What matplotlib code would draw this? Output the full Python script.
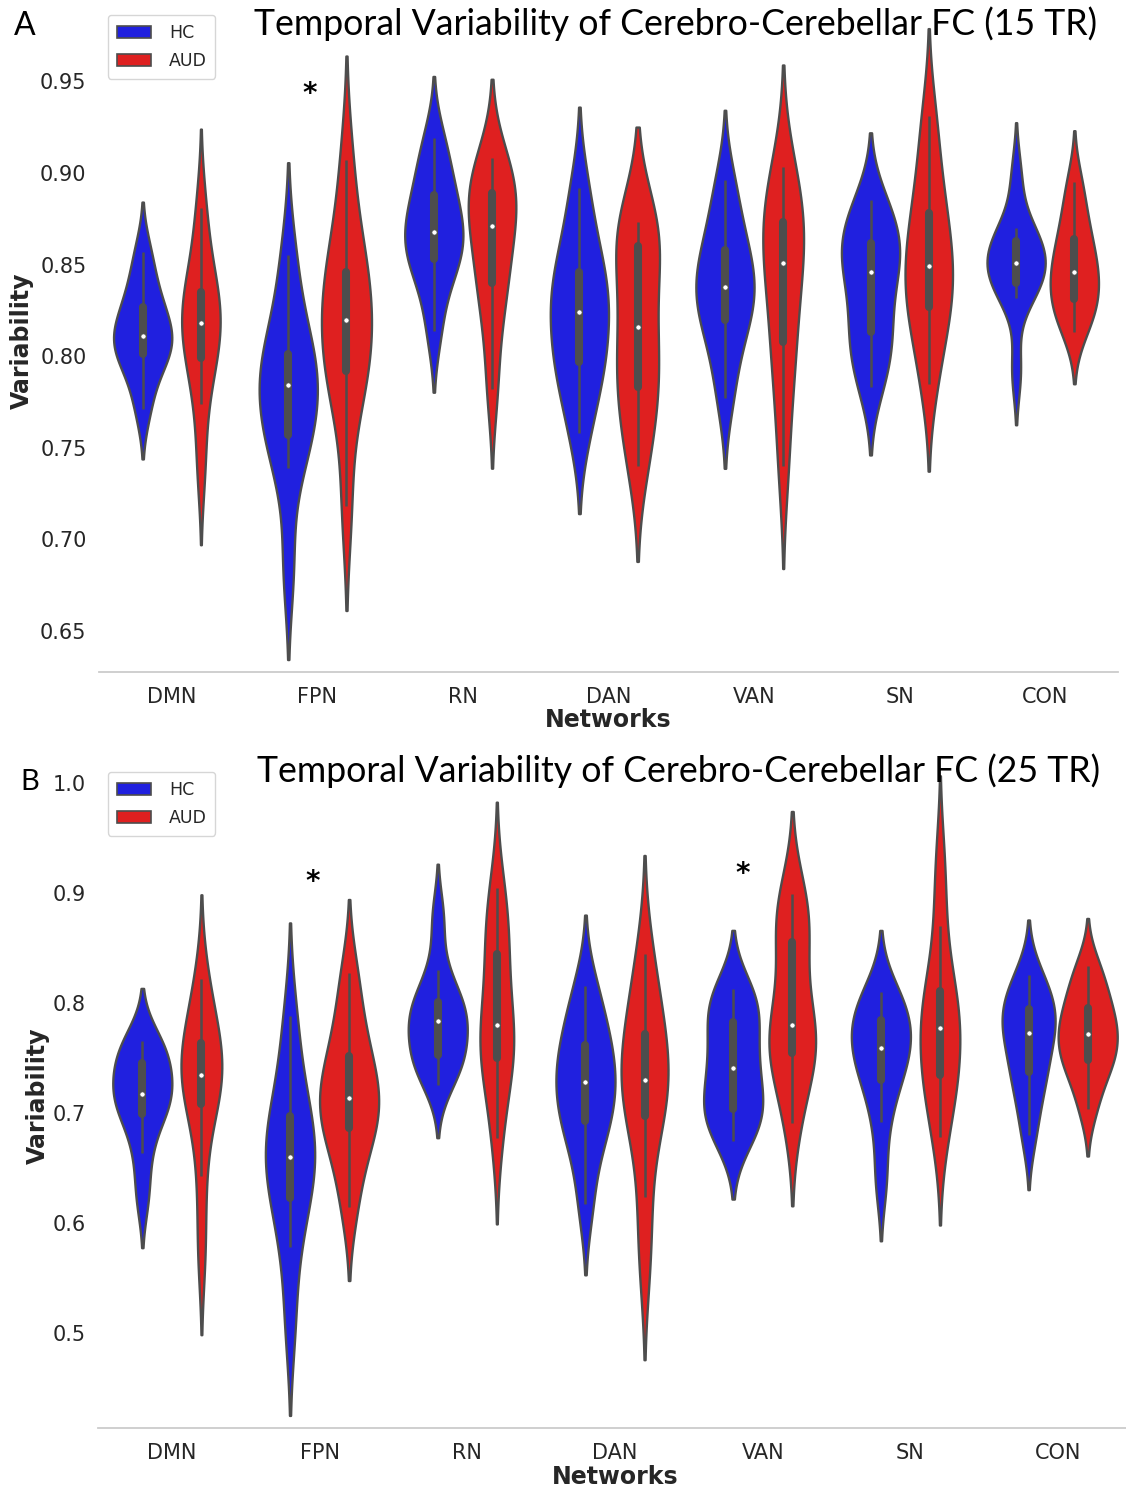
import numpy as np
import matplotlib
matplotlib.use("Agg")
import matplotlib.pyplot as plt
from matplotlib.patches import Patch

# ---------------- data ----------------
networks = ["DMN", "FPN", "RN", "DAN", "VAN", "SN", "CON"]
groups = ["HC", "AUD"]

# 15 TR window
hc_15tr = [
    [0.771, 0.788, 0.799, 0.803, 0.807, 0.811, 0.816, 0.824, 0.830, 0.842, 0.857],  # DMN
    [0.685, 0.739, 0.752, 0.762, 0.772, 0.784, 0.790, 0.797, 0.805, 0.826, 0.855],  # FPN
    [0.814, 0.838, 0.850, 0.856, 0.862, 0.868, 0.874, 0.884, 0.892, 0.905, 0.919],  # RN
    [0.758, 0.780, 0.792, 0.802, 0.812, 0.824, 0.832, 0.842, 0.850, 0.868, 0.892],  # DAN
    [0.777, 0.800, 0.815, 0.825, 0.830, 0.838, 0.845, 0.854, 0.862, 0.878, 0.896],  # VAN
    [0.783, 0.798, 0.808, 0.818, 0.832, 0.846, 0.852, 0.858, 0.866, 0.875, 0.885],  # SN
    [0.792, 0.832, 0.838, 0.842, 0.847, 0.851, 0.855, 0.860, 0.866, 0.870, 0.898],  # CON
]
aud_15tr = [
    [0.740, 0.774, 0.795, 0.803, 0.810, 0.818, 0.826, 0.832, 0.838, 0.856, 0.881],
    [0.718, 0.772, 0.788, 0.796, 0.808, 0.820, 0.830, 0.840, 0.852, 0.870, 0.907],
    [0.782, 0.815, 0.835, 0.845, 0.858, 0.871, 0.878, 0.886, 0.892, 0.900, 0.908],
    [0.740, 0.760, 0.778, 0.788, 0.800, 0.816, 0.832, 0.852, 0.868, 0.870, 0.873],
    [0.740, 0.778, 0.800, 0.816, 0.835, 0.851, 0.860, 0.869, 0.877, 0.890, 0.903],
    [0.785, 0.808, 0.822, 0.832, 0.840, 0.849, 0.860, 0.872, 0.884, 0.905, 0.931],
    [0.813, 0.822, 0.828, 0.834, 0.840, 0.846, 0.852, 0.860, 0.868, 0.880, 0.895],
]
# 25 TR window
hc_25tr = [
    [0.625, 0.664, 0.692, 0.706, 0.712, 0.717, 0.728, 0.740, 0.752, 0.760, 0.766],
    [0.510, 0.578, 0.610, 0.636, 0.648, 0.660, 0.672, 0.690, 0.704, 0.740, 0.788],
    [0.726, 0.742, 0.750, 0.756, 0.770, 0.784, 0.790, 0.797, 0.805, 0.830, 0.878],
    [0.617, 0.665, 0.686, 0.700, 0.715, 0.728, 0.740, 0.755, 0.769, 0.790, 0.816],
    [0.675, 0.690, 0.700, 0.708, 0.725, 0.741, 0.755, 0.775, 0.791, 0.803, 0.813],
    [0.640, 0.692, 0.722, 0.738, 0.750, 0.759, 0.768, 0.780, 0.790, 0.800, 0.810],
    [0.680, 0.712, 0.730, 0.744, 0.760, 0.773, 0.782, 0.790, 0.800, 0.812, 0.826],
]
aud_25tr = [
    [0.575, 0.643, 0.700, 0.716, 0.726, 0.735, 0.746, 0.758, 0.770, 0.790, 0.822],
    [0.615, 0.655, 0.680, 0.692, 0.703, 0.714, 0.726, 0.745, 0.759, 0.790, 0.827],
    [0.677, 0.720, 0.745, 0.755, 0.768, 0.780, 0.800, 0.835, 0.855, 0.878, 0.905],
    [0.565, 0.624, 0.690, 0.704, 0.716, 0.730, 0.748, 0.765, 0.779, 0.810, 0.845],
    [0.691, 0.730, 0.750, 0.760, 0.770, 0.780, 0.805, 0.845, 0.867, 0.885, 0.899],
    [0.678, 0.712, 0.730, 0.740, 0.760, 0.777, 0.790, 0.805, 0.817, 0.870, 0.927],
    [0.704, 0.730, 0.744, 0.752, 0.762, 0.772, 0.780, 0.790, 0.802, 0.818, 0.834],
]
sig_15tr = ["FPN"]
sig_25tr = ["FPN", "VAN"]
titles = ["Temporal Variability of Cerebro-Cerebellar FC (15 TR)",
          "Temporal Variability of Cerebro-Cerebellar FC (25 TR)"]

# ---------------- style ----------------
BLUE = (0.125, 0.125, 0.875)
RED = (0.875, 0.125, 0.125)
GRAY = (0.3, 0.3, 0.3)
TXT = "0.15"
BW_ADJUST = 0.9
W, H = 1126, 1492
fig = plt.figure(figsize=(W / 100, H / 100), dpi=100)


def px_axes(l, t, r, b):
    return fig.add_axes([l / W, 1 - b / H, (r - l) / W, (b - t) / H])


def kde(vals, cut=2.0, gridsize=100):
    v = np.asarray(vals, float)
    bw = BW_ADJUST * v.size ** (-0.2) * v.std(ddof=1)
    grid = np.linspace(v.min() - cut * bw, v.max() + cut * bw, gridsize)
    d = np.exp(-0.5 * ((grid[:, None] - v[None, :]) / bw) ** 2).sum(1) / (v.size * bw * np.sqrt(2 * np.pi))
    return grid, d


def violins(ax, hc, aud):
    for i in range(len(networks)):
        sets = [hc[i], aud[i]]
        curves = [kde(s) for s in sets]
        mx = max(c[1].max() for c in curves)
        for j, (vals, (g, d), col) in enumerate(zip(sets, curves, [BLUE, RED])):
            c = i + (-0.2 if j == 0 else 0.2)
            w = 0.2 * d / mx
            ax.fill_betweenx(g, c - w, c + w, facecolor=col, edgecolor=GRAY,
                             linewidth=1.7, zorder=1)
            v = np.asarray(vals)
            q1, med, q3 = np.percentile(v, [25, 50, 75])
            iqr = q3 - q1
            lo = v[v >= q1 - 1.5 * iqr].min()
            hi = v[v <= q3 + 1.5 * iqr].max()
            ax.plot([c, c], [lo, hi], color=GRAY, lw=1.8, solid_capstyle="butt", zorder=2)
            ax.plot([c, c], [q1, q3], color=GRAY, lw=5.8, solid_capstyle="round", zorder=2)
            ax.scatter([c], [med], s=14, color="white", edgecolor=GRAY, linewidth=0.5, zorder=3)


def style(ax, yticks, fmt, ylim, ylab_x, xlab_y):
    ax.set_xlim(-0.5, 6.5)
    ax.set_ylim(*ylim)
    ax.set_xticks(range(len(networks)))
    ax.set_xticklabels(networks)
    ax.set_yticks(yticks)
    ax.set_yticklabels([fmt.format(t) for t in yticks])
    for s in ["left", "top", "right"]:
        ax.spines[s].set_visible(False)
    ax.spines["bottom"].set_color("#cccccc")
    ax.spines["bottom"].set_linewidth(1.3)
    ax.tick_params(axis="both", length=0, labelsize=15, labelcolor=TXT)
    ax.tick_params(axis="y", pad=9)
    ax.tick_params(axis="x", pad=11)
    ax.set_ylabel("Variability", fontsize=17, fontweight="bold", color=TXT)
    ax.set_xlabel("Networks", fontsize=17, fontweight="bold", color=TXT)
    ax.yaxis.set_label_coords(ylab_x, 0.5)
    ax.xaxis.set_label_coords(0.5, xlab_y)


def legend(ax, top_px):
    handles = [Patch(facecolor=BLUE, edgecolor=GRAY, linewidth=1.2, label=groups[0]),
               Patch(facecolor=RED, edgecolor=GRAY, linewidth=1.2, label=groups[1])]
    leg = ax.legend(handles=handles, loc="upper left", bbox_to_anchor=(108 / W, 1 - top_px / H),
                    bbox_transform=fig.transFigure, fontsize=12.5, frameon=True,
                    borderaxespad=0, fancybox=True, handletextpad=1.0, labelspacing=0.6,
                    borderpad=0.5)
    leg.get_frame().set_edgecolor("0.8")
    for t in leg.get_texts():
        t.set_color(TXT)


axA = px_axes(99, 9, 1118, 672)
violins(axA, hc_15tr, aud_15tr)
style(axA, [0.65, 0.70, 0.75, 0.80, 0.85, 0.90, 0.95], "{:.2f}", (0.6276, 0.9895), -0.064, -0.054)
legend(axA, 15)

axB = px_axes(98, 764, 1132, 1428)
violins(axB, hc_25tr, aud_25tr)
style(axB, [0.5, 0.6, 0.7, 0.8, 0.9, 1.0], "{:.1f}", (0.4136, 1.0175), -0.047, -0.056)
legend(axB, 772)

# significance stars
star_pos_15 = {"FPN": (-0.05, 0.948)}
star_pos_25 = {"FPN": (-0.045, 0.918), "VAN": (-0.133, 0.925)}
for ax, sig, pos in [(axA, sig_15tr, star_pos_15), (axB, sig_25tr, star_pos_25)]:
    for name in sig:
        dx, y = pos[name]
        ax.annotate("*", (networks.index(name) + dx, y), xytext=(0, -12), textcoords="offset points",
                    ha="center", va="baseline", fontsize=20, fontweight="bold", color="black")

# titles and panel letters
for txt, x0, base, target in [(titles[0], 254, 35, 844), (titles[1], 257, 782, 843)]:
    t = fig.text(x0 / W, 1 - base / H, txt, fontfamily="Lato", fontsize=27, va="baseline", ha="left")
    fig.canvas.draw()
    bb = t.get_window_extent()
    t.set_fontsize(27 * target / bb.width)

fig.text(14 / W, 1 - 35 / H, "A", fontfamily="Lato", fontsize=23, va="baseline", ha="left")
fig.text(20 / W, 1 - 790 / H, "B", fontfamily="Lato", fontsize=21, va="baseline", ha="left")

fig.savefig("out.png", dpi=100)
